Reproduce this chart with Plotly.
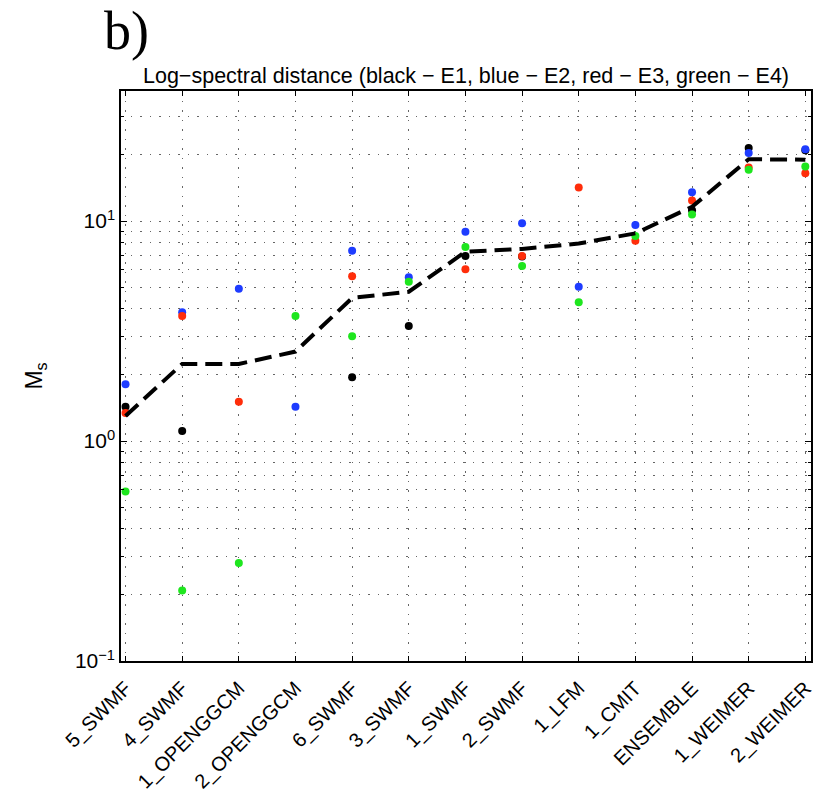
import plotly.graph_objects as go

categories = ["5_SWMF", "4_SWMF", "1_OPENGGCM", "2_OPENGGCM", "6_SWMF", "3_SWMF",
              "1_SWMF", "2_SWMF", "1_LFM", "1_CMIT", "ENSEMBLE", "1_WEIMER", "2_WEIMER"]
e1_black = [1.43, 1.11, None, None, 1.95, 3.33, 6.93, 6.9, None, None, 11.2, 21.5, 21.0]
e2_blue = [1.81, 3.85, 4.92, 1.43, 7.33, 5.55, 8.94, 9.77, 5.03, 9.59, 13.5, 20.4, 21.2]
e3_red = [1.34, 3.70, 1.51, None, 5.61, None, 6.03, 6.93, 14.2, 8.14, 12.4, 17.5, 16.5]
e4_green = [0.59, 0.209, 0.279, 3.70, 2.99, 5.30, 7.62, 6.24, 4.27, 8.55, 10.7, 17.1, 17.7]
mean_line = [1.30, 2.24, 2.24, 2.55, 4.47, 4.77, 7.25, 7.47, 7.9, 8.79, 11.6, 19.1, 19.0]

ytick_vals = [0.1, 1, 10]
ytick_text = ["10<sup>−1</sup>", "10<sup>0</sup>", "10<sup>1</sup>"]
yminor_vals = [0.2, 0.3, 0.4, 0.5, 0.6, 0.7, 0.8, 0.9,
               2, 3, 4, 5, 6, 7, 8, 9, 20, 30]

x_idx = list(range(len(categories)))

fig = go.Figure()
series = [(e1_black, "#000000", "E1"), (e2_blue, "#1e3cff", "E2"),
          (e3_red, "#ff2d0a", "E3"), (e4_green, "#1ee61e", "E4")]
for vals, col, name in series:
    fig.add_trace(go.Scatter(x=x_idx, y=vals, mode="markers", name=name,
                             marker=dict(color=col, size=8, line=dict(width=0))))
fig.add_trace(go.Scatter(x=x_idx, y=mean_line, mode="lines", name="mean",
                         line=dict(color="black", width=4, dash="17px,8px")))

grid_col = "rgba(0,0,0,0.6)"
grid_dash = "1.5px,8px"

fig.update_layout(
    width=817, height=794,
    margin=dict(l=121, r=6, t=91, b=133),
    plot_bgcolor="white", paper_bgcolor="white",
    showlegend=False,
    font=dict(family="Liberation Sans, Arial, sans-serif", color="black"),
    title=dict(text="Log−spectral distance (black − E1, blue − E2, red − E3, green − E4)",
               x=0.5, xref="paper", xanchor="center", y=1, yref="paper",
               yanchor="bottom", pad=dict(b=8),
               font=dict(size=21.5, family="Liberation Sans, Arial, sans-serif")),
    xaxis=dict(
        range=[-0.08, 12.1], automargin=False,
        tickvals=x_idx, ticktext=categories, tickangle=-45,
        tickfont=dict(size=20), ticklabelstandoff=6,
        showline=True, linecolor="black", linewidth=1.5, mirror="ticks",
        ticks="inside", ticklen=5, tickcolor="black",
        showgrid=True, gridcolor=grid_col, gridwidth=1, griddash=grid_dash,
        zeroline=False,
    ),
    yaxis=dict(
        type="log", range=[-1, 1.591], automargin=False,
        tickvals=ytick_vals, ticktext=ytick_text,
        tickfont=dict(size=21),
        showline=True, linecolor="black", linewidth=1.5, mirror="ticks",
        ticks="inside", ticklen=6, tickcolor="black",
        showgrid=True, gridcolor=grid_col, gridwidth=1, griddash=grid_dash,
        minor=dict(tickvals=yminor_vals, ticks="inside", ticklen=3, tickcolor="black",
                   showgrid=True, gridcolor=grid_col, gridwidth=1, griddash=grid_dash),
        title=dict(text="M<sub>s</sub>", font=dict(size=23), standoff=26),
        zeroline=False,
    ),
)

fig.add_annotation(text="b)", xref="paper", yref="paper", x=-0.028, y=1.0,
                   yshift=92, xanchor="left", yanchor="top", showarrow=False,
                   font=dict(size=54, family="Liberation Serif, Times New Roman, serif"))

fig.write_html("out.html")
